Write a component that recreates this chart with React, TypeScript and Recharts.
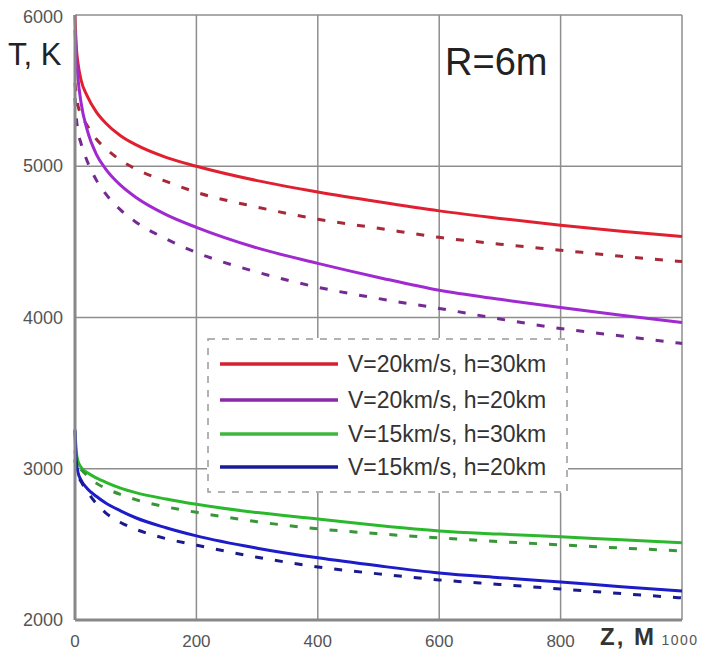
import React from 'react'
import { LineChart, Line, XAxis, YAxis, CartesianGrid } from 'recharts'

// distance along trajectory, m
const zValues = [0, 2, 5, 10, 20, 35, 50, 75, 100, 150, 200, 300, 400, 500, 600, 700, 800, 900, 1000]

// temperature, K (solid = upper curve, dashed = lower curve of each pair)
const red20x30 = [6000, 5800, 5680, 5570, 5465, 5360, 5288, 5202, 5143, 5059, 5000, 4905, 4830, 4765, 4705, 4655, 4610, 4570, 4535]
const red20x30Dash = [5550, 5470, 5400, 5340, 5270, 5180, 5120, 5040, 4982, 4900, 4828, 4730, 4650, 4590, 4530, 4485, 4445, 4405, 4370]
const purple20x20 = [5900, 5750, 5580, 5420, 5240, 5080, 4985, 4875, 4795, 4680, 4596, 4460, 4358, 4265, 4180, 4120, 4066, 4015, 3967]
const purple20x20Dash = [5450, 5330, 5230, 5150, 5035, 4910, 4820, 4712, 4632, 4520, 4430, 4300, 4200, 4125, 4060, 3990, 3927, 3878, 3828]
const green15x30 = [3250, 3120, 3050, 3010, 2975, 2940, 2912, 2872, 2842, 2800, 2765, 2710, 2668, 2625, 2589, 2568, 2550, 2530, 2510]
const green15x30Dash = [3120, 3060, 3020, 2995, 2955, 2905, 2872, 2830, 2796, 2748, 2712, 2650, 2603, 2570, 2543, 2518, 2497, 2476, 2457]
const blue15x20 = [3260, 3060, 2975, 2925, 2870, 2818, 2775, 2722, 2676, 2610, 2556, 2475, 2411, 2358, 2311, 2280, 2252, 2220, 2192]
const blue15x20Dash = [3060, 3000, 2955, 2915, 2850, 2770, 2710, 2645, 2600, 2538, 2495, 2415, 2351, 2305, 2265, 2235, 2205, 2175, 2146]

const xTicks = [0, 200, 400, 600, 800, 1000]
const yTicks = [2000, 3000, 4000, 5000, 6000]

const legendLabels = ['V=20km/s, h=30km', 'V=20km/s, h=20km', 'V=15km/s, h=30km', 'V=15km/s, h=20km']

const series = [
  { key: 'r', values: red20x30, color: '#e02030', dashed: false },
  { key: 'rd', values: red20x30Dash, color: '#a82838', dashed: true },
  { key: 'p', values: purple20x20, color: '#a02ad0', dashed: false },
  { key: 'pd', values: purple20x20Dash, color: '#742a92', dashed: true },
  { key: 'g', values: green15x30, color: '#2cb82c', dashed: false },
  { key: 'gd', values: green15x30Dash, color: '#389638', dashed: true },
  { key: 'b', values: blue15x20, color: '#1c1cc8', dashed: false },
  { key: 'bd', values: blue15x20Dash, color: '#1a1a8c', dashed: true },
]

const legendColors = ['#d42030', '#8a2aa8', '#3cb83c', '#1a1a98']

const rows = zValues.map((z, i) => {
  const row: Record<string, number> = { z }
  series.forEach((s) => (row[s.key] = s.values[i]))
  return row
})

const font = '"Liberation Sans", Arial, sans-serif'

function XTick({ x, y, payload }: any) {
  if (payload.value === 1000) {
    return (
      <text x={x - 2} y={y + 25} textAnchor="middle" fontSize={14} letterSpacing={1.5} fill="#555" fontFamily={font}>
        1000
      </text>
    )
  }
  return (
    <text x={x} y={y + 27} textAnchor="middle" fontSize={17} fill="#555" fontFamily={font}>
      {payload.value}
    </text>
  )
}

function YTick({ x, y, payload }: any) {
  return (
    <text x={x} y={y + 6} textAnchor="end" fontSize={18} fill="#555" fontFamily={font}>
      {payload.value}
    </text>
  )
}

export default function App() {
  return (
    <div style={{ position: 'absolute', left: 8, top: 8, width: 690, height: 642, fontFamily: font }}>
      <LineChart width={690} height={642} data={rows} margin={{ top: 7, right: 16, left: 7, bottom: 10 }}>
        <CartesianGrid stroke="#8e8e8e" strokeWidth={1.5} />
        <XAxis
          dataKey="z"
          type="number"
          domain={[0, 1000]}
          ticks={xTicks}
          height={20}
          tickSize={0}
          tickMargin={0}
          tick={<XTick />}
          axisLine={{ stroke: '#888', strokeWidth: 3 }}
          tickLine={false}
        />
        <YAxis
          type="number"
          domain={[2000, 6000]}
          ticks={yTicks}
          width={60}
          tickSize={0}
          tickMargin={12}
          tick={<YTick />}
          axisLine={{ stroke: '#888', strokeWidth: 3 }}
          tickLine={false}
        />
        {series.map((s) => (
          <Line
            key={s.key}
            dataKey={s.key}
            type="monotone"
            stroke={s.color}
            strokeWidth={3}
            strokeDasharray={s.dashed ? '8 12' : undefined}
            dot={false}
            isAnimationActive={false}
          />
        ))}
      </LineChart>

      <svg width={690} height={642} style={{ position: 'absolute', left: 0, top: 0, pointerEvents: 'none' }}>
        <text x={0} y={57} fontSize={31} fill="#222" fontFamily={font}>
          T, K
        </text>
        <text x={437} y={67} fontSize={38} fill="#222" fontFamily={font}>
          R=6m
        </text>
        <text x={592} y={637} fontSize={24} fontWeight="bold" letterSpacing={2} fill="#333" fontFamily={font}>
          Z, M
        </text>
      </svg>

      <div style={{ position: 'absolute', left: 199, top: 330, width: 361, height: 155, background: '#fff' }}>
        <svg width={361} height={155}>
          <rect x={1} y={1} width={359} height={153} fill="#fff" stroke="#999" strokeWidth={1.5} strokeDasharray="7 7" />
          {legendLabels.map((label, i) => {
            const cy = [26, 62, 96, 129][i]
            return (
              <g key={label}>
                <line x1={13} x2={131} y1={cy} y2={cy} stroke={legendColors[i]} strokeWidth={3.5} />
                <text x={141} y={cy + 8} fontSize={23} fill="#333" fontFamily={font}>
                  {label}
                </text>
              </g>
            )
          })}
        </svg>
      </div>
    </div>
  )
}
